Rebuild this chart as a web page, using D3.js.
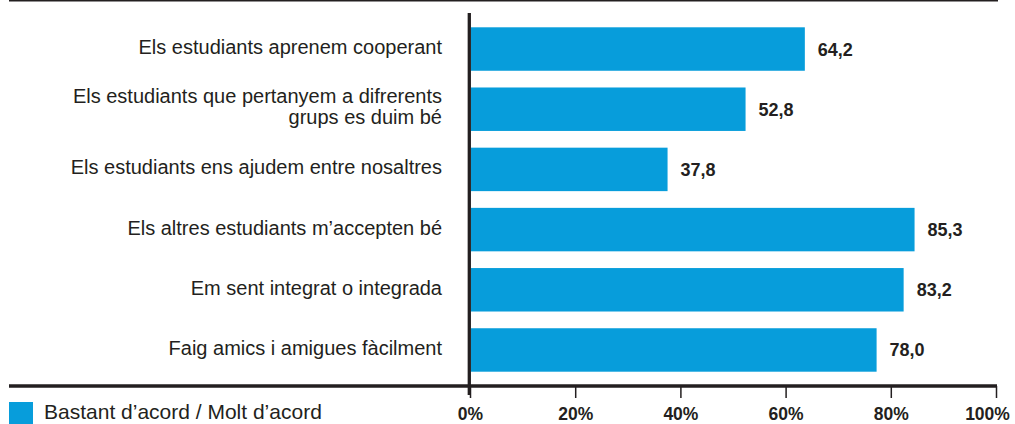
<!DOCTYPE html>
<meta charset="utf-8">
<style>
body { margin: 0; background: #fff; }
text { font-family: "Liberation Sans", Arial, sans-serif; fill: #231f20; }
.cat { font-size: 20px; }
.leg { font-size: 21px; }
.val { font-size: 18px; font-weight: bold; }
.tick text { font-size: 17.5px; font-weight: bold; }
</style>
<body>
<script src="https://d3js.org/d3.v7.min.js"></script>
<script>

// categories (top to bottom) and values
var categories = [
  ["Els estudiants aprenem cooperant"],
  ["Els estudiants que pertanyem a difrerents", "grups es duim bé"],
  ["Els estudiants ens ajudem entre nosaltres"],
  ["Els altres estudiants m\u2019accepten bé"],
  ["Em sent integrat o integrada"],
  ["Faig amics i amigues fàcilment"]
];
var values = [64.2, 52.8, 37.8, 85.3, 83.2, 78.0];
var tickValues = [0, 20, 40, 60, 80, 100];
var legendLabel = "Bastant d\u2019acord / Molt d\u2019acord";

var W = 1015, H = 424;
var barColor = "#079ddb";
var ink = "#231f20";

var svg = d3.select("body").append("svg")
    .attr("width", W)
    .attr("height", H);

// bar scale and axis scale (axis in the original is drawn slightly wider)
var x = d3.scaleLinear().domain([0, 100]).range([471, 991]);
var xAxisScale = d3.scaleLinear().domain([0, 100]).range([470, 996]);
var y = d3.scaleBand().domain(d3.range(values.length))
    .range([27.3, 371.7]).paddingInner(0.278).paddingOuter(0);

// top rule
svg.append("line")
    .attr("x1", 9).attr("x2", 998).attr("y1", 0.75).attr("y2", 0.75)
    .attr("stroke", ink).attr("stroke-width", 1.5);

// bars
svg.selectAll("rect.bar")
  .data(values)
  .enter().append("rect")
    .attr("class", "bar")
    .attr("x", x(0))
    .attr("y", function(d, i) { return y(i); })
    .attr("width", function(d) { return x(d) - x(0); })
    .attr("height", y.bandwidth())
    .attr("fill", barColor);

// value labels
svg.selectAll("text.val")
  .data(values)
  .enter().append("text")
    .attr("class", "val")
    .attr("x", function(d) { return x(d) + 13; })
    .attr("y", function(d, i) { return y(i) + y.bandwidth() / 2; })
    .attr("dy", "0.36em")
    .text(function(d) { return d.toFixed(1).replace(".", ","); });

// category labels
var cat = svg.selectAll("text.cat")
  .data(categories)
  .enter().append("text")
    .attr("class", "cat")
    .attr("text-anchor", "end")
    .attr("x", 442)
    .attr("y", function(d, i) { return y(i) + y.bandwidth() / 2 - (d.length - 1) * 11.5 + 5; });
cat.selectAll("tspan")
  .data(function(d) { return d; })
  .enter().append("tspan")
    .attr("x", 442)
    .attr("dy", function(d, j) { return j === 0 ? 0 : 21; })
    .text(function(d) { return d; });

// bottom axis
var axis = svg.append("g")
    .attr("transform", "translate(0,386)")
    .call(d3.axisBottom(xAxisScale).tickValues(tickValues)
      .tickFormat(function(d) { return d + "%"; })
      .tickSize(12).tickPadding(10));
axis.select(".domain").remove();
axis.selectAll(".tick line").attr("stroke", ink).attr("stroke-width", 1.5);
axis.selectAll(".tick text").attr("fill", ink);
axis.selectAll(".tick text").filter(function(d) { return d === 100; }).attr("dx", -9);
svg.append("line")
    .attr("x1", 9).attr("x2", xAxisScale(100) + 1).attr("y1", 386).attr("y2", 386)
    .attr("stroke", ink).attr("stroke-width", 3.5);

// vertical zero line
svg.append("line")
    .attr("x1", 469.3).attr("x2", 469.3).attr("y1", 13).attr("y2", 395)
    .attr("stroke", ink).attr("stroke-width", 3.3);

// legend
svg.append("rect")
    .attr("x", 9).attr("y", 402).attr("width", 24).attr("height", 22)
    .attr("fill", barColor);
svg.append("text")
    .attr("class", "leg")
    .attr("x", 44).attr("y", 419)
    .text(legendLabel);

</script>
</body>
